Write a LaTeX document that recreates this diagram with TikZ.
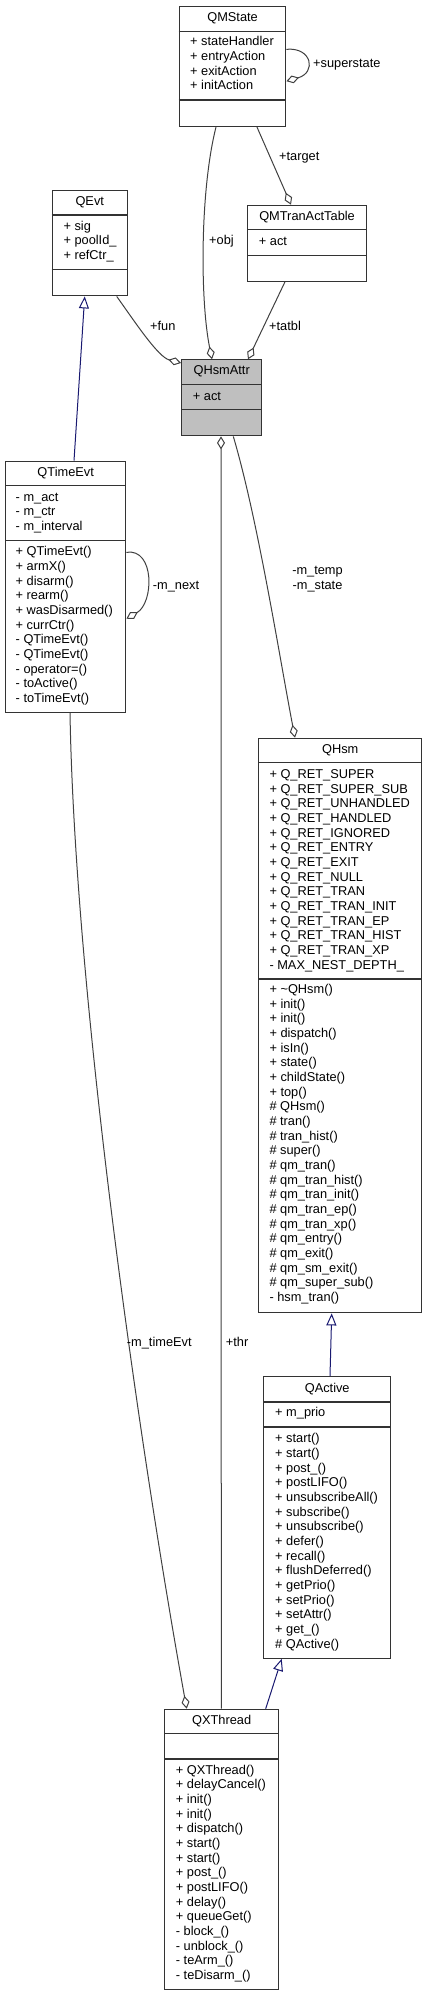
\documentclass[tikz,border=0pt]{standalone}
\usepackage{fontspec}
\setmainfont{Liberation Sans}
\usetikzlibrary{arrows.meta}
\definecolor{edgegray}{HTML}{404040}
\definecolor{basegray}{HTML}{BFBFBF}
\definecolor{inhblue}{HTML}{191970}
\tikzset{
  classbox/.style={draw=black!80, line width=1.1pt, fill=white, inner sep=0pt, anchor=north west},
  divider/.style={draw=black!80, line width=1.1pt},
  ctitle/.style={inner sep=0pt, text height=9.5pt, text depth=2.5pt},
  member/.style={ctitle, anchor=west},
  elabel/.style={ctitle, anchor=west},
  assoc/.style={draw=edgegray, line width=1pt, -{Diamond[open, length=13pt, width=8pt]}},
  inherit/.style={draw=inhblue, line width=1pt, -{Triangle[open, length=12pt, width=10pt]}}
}
\newcommand\divline[2]{\draw[divider] (#1.west |- 0,#2) -- (#1.east |- 0,#2);}
\begin{document}
\begin{tikzpicture}[x=1pt, y=-1pt, font=\fontsize{12.8}{14.67}\selectfont]
\useasboundingbox (0,0) rectangle (427,1996);

% QMState
\node[classbox, minimum width=106.6pt, minimum height=120.3pt] (qmstate) at (178.7,5.7) {};
\divline{qmstate}{31.3}
\divline{qmstate}{100}
\node[ctitle] (qmstate-t) at (qmstate.north |- 0,18) {QMState};
\foreach \m [count=\i from 0] in {+ stateHandler, + entryAction, + exitAction, + initAction}
  \node[member] (qmstate-a\i) at (190,42.3+\i*14.67) {\m};

% QEvt
\node[classbox, minimum width=75pt, minimum height=105.3pt] (qevt) at (51.7,190) {};
\divline{qevt}{215}
\divline{qevt}{269.3}
\node[ctitle] (qevt-t) at (qevt.north |- 0,201.5) {QEvt};
\foreach \m [count=\i from 0] in {+ sig, + poolId\_, + refCtr\_}
  \node[member] (qevt-a\i) at (63.3,226.7+\i*14.67) {\m};

% QMTranActTable
\node[classbox, minimum width=119pt, minimum height=76pt] (qmtran) at (247,204.7) {};
\divline{qmtran}{229.7}
\divline{qmtran}{255.3}
\node[ctitle] (qmtran-t) at (qmtran.north |- 0,216.7) {QMTranActTable};
\node[member] (qmtran-a0) at (258.7,241.7) {+ act};

% QHsmAttr
\node[classbox, fill=basegray, minimum width=80.3pt, minimum height=76pt] (qhsmattr) at (181,359.3) {};
\divline{qhsmattr}{384.7}
\divline{qhsmattr}{409.7}
\node[ctitle] (qhsmattr-t) at (qhsmattr.north |- 0,371) {QHsmAttr};
\node[member] (qhsmattr-a0) at (192.7,396.7) {+ act};

% QTimeEvt
\node[classbox, minimum width=120.3pt, minimum height=251.3pt] (qtimeevt) at (5,460.7) {};
\divline{qtimeevt}{485.7}
\divline{qtimeevt}{540.7}
\node[ctitle] (qtimeevt-t) at (qtimeevt.north |- 0,472.5) {QTimeEvt};
\foreach \m [count=\i from 0] in {- m\_act, - m\_ctr, - m\_interval}
  \node[member] (qtimeevt-a\i) at (15.5,497.7+\i*14.67) {\m};
\foreach \m [count=\i from 0] in {+ QTimeEvt(), + armX(), + disarm(), + rearm(), + wasDisarmed(),
    + currCtr(), - QTimeEvt(), - QTimeEvt(), - operator=(), - toActive(), - toTimeEvt()}
  \node[member] (qtimeevt-m\i) at (15.5,552.3+\i*14.67) {\m};

% QHsm
\node[classbox, minimum width=162.7pt, minimum height=574.6pt] (qhsm) at (258.3,737.7) {};
\divline{qhsm}{762.7}
\divline{qhsm}{979}
\node[ctitle] (qhsm-t) at (qhsm.north |- 0,750) {QHsm};
\foreach \m [count=\i from 0] in {+ Q\_RET\_SUPER, + Q\_RET\_SUPER\_SUB, + Q\_RET\_UNHANDLED,
    + Q\_RET\_HANDLED, + Q\_RET\_IGNORED, + Q\_RET\_ENTRY, + Q\_RET\_EXIT, + Q\_RET\_NULL,
    + Q\_RET\_TRAN, + Q\_RET\_TRAN\_INIT, + Q\_RET\_TRAN\_EP, + Q\_RET\_TRAN\_HIST,
    + Q\_RET\_TRAN\_XP, - MAX\_NEST\_DEPTH\_}
  \node[member] (qhsm-a\i) at (269.3,775+\i*14.67) {\m};
\foreach \m [count=\i from 0] in {+ {\textasciitilde}QHsm(), + init(), + init(), + dispatch(), + isIn(),
    + state(), + childState(), + top(), \# QHsm(), \# tran(), \# tran\_hist(), \# super(),
    \# qm\_tran(), \# qm\_tran\_hist(), \# qm\_tran\_init(), \# qm\_tran\_ep(), \# qm\_tran\_xp(),
    \# qm\_entry(), \# qm\_exit(), \# qm\_sm\_exit(), \# qm\_super\_sub(), - hsm\_tran()}
  \node[member] (qhsm-m\i) at (269.3,990+\i*14.67) {\m};

% QActive
\node[classbox, minimum width=126.7pt, minimum height=281.7pt] (qactive) at (263.3,1376) {};
\divline{qactive}{1402}
\divline{qactive}{1427}
\node[ctitle] (qactive-t) at (qactive.north |- 0,1388.5) {QActive};
\node[member] (qactive-a0) at (275,1413.3) {+ m\_prio};
\foreach \m [count=\i from 0] in {+ start(), + start(), + post\_(), + postLIFO(), + unsubscribeAll(),
    + subscribe(), + unsubscribe(), + defer(), + recall(), + flushDeferred(), + getPrio(),
    + setPrio(), + setAttr(), + get\_(), \# QActive()}
  \node[member] (qactive-m\i) at (275,1439.3+\i*14.67) {\m};

% QXThread
\node[classbox, minimum width=113.7pt, minimum height=280.6pt] (qxthread) at (164.3,1708.7) {};
\divline{qxthread}{1733.7}
\divline{qxthread}{1759}
\node[ctitle] (qxthread-t) at (qxthread.north |- 0,1720.5) {QXThread};
\foreach \m [count=\i from 0] in {+ QXThread(), + delayCancel(), + init(), + init(), + dispatch(),
    + start(), + start(), + post\_(), + postLIFO(), + delay(), + queueGet(), - block\_(),
    - unblock\_(), - teArm\_(), - teDisarm\_()}
  \node[member] (qxthread-m\i) at (175.7,1770.7+\i*14.67) {\m};

% associations
\draw[assoc] ([xshift=37.3pt]qmstate.south west) .. controls (200,190) and (200,300) .. ([xshift=31pt]qhsmattr.north west);
\node[elabel] (obj-l) at (209,241) {+obj};
\draw[assoc] ([xshift=78.3pt]qmstate.south west) -- ([xshift=44pt]qmtran.north west);
\node[elabel] (target-l) at (279,156.7) {+target};
\draw[assoc] ([yshift=-43.6pt]qmstate.north east) .. controls (312,47) and (316.7,72.5) .. ([yshift=-75.5pt]qmstate.north east);
\node[elabel] (superstate-l) at (313,64.3) {+superstate};
\draw[assoc] ([xshift=65pt]qevt.south west) .. controls (135,322) and (158,357) .. ([yshift=-3.7pt]qhsmattr.north west);
\node[elabel] (fun-l) at (150,326.5) {+fun};
\draw[assoc] ([xshift=38pt]qmtran.south west) -- ([xshift=67pt]qhsmattr.north west);
\node[elabel] (tatbl-l) at (269,326.5) {+tatbl};
\draw[assoc] ([yshift=-91.6pt]qtimeevt.north east) .. controls (155,548) and (154,603) .. ([yshift=-158pt]qtimeevt.north east);
\node[elabel] (next-l) at (152.7,585.7) {-m\_next};
\draw[assoc] ([xshift=52.3pt]qhsmattr.south west) .. controls (258,520) and (280,660) .. ([xshift=36.7pt]qhsm.north west);
\node[ctitle, align=center] (state-l) at (317.5,586) {-m\_temp\\-m\_state};
\draw[assoc] ([xshift=57pt]qxthread.north west) -- ([xshift=40pt]qhsmattr.south west);
\node[elabel] (thr-l) at (225.7,1343) {+thr};
\draw[assoc] ([xshift=65pt]qtimeevt.south west) .. controls (75,1000) and (140,1450) .. ([xshift=22.4pt]qxthread.north west);
\node[elabel] (timeevt-l) at (126.7,1343) {-m\_timeEvt};

% inheritance
\draw[inherit] ([xshift=69pt]qtimeevt.north west) -- ([xshift=33pt]qevt.south west);
\draw[inherit] ([xshift=66.7pt]qactive.north west) -- ([xshift=73.4pt]qhsm.south west);
\draw[inherit] ([xshift=101.4pt]qxthread.north west) -- ([xshift=18.4pt]qactive.south west);
\end{tikzpicture}
\end{document}
